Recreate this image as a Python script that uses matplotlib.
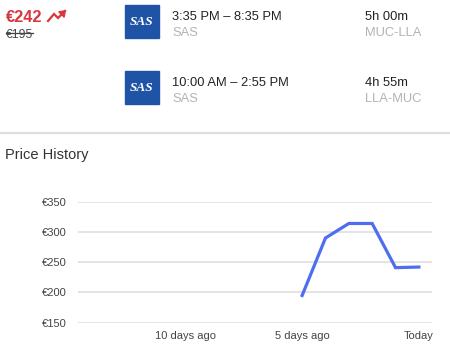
import matplotlib
matplotlib.use("Agg")
import matplotlib.pyplot as plt
from matplotlib.patches import Rectangle

# ---------------------------------------------------------------------------
# Data
# ---------------------------------------------------------------------------
days = [-5, -4, -3, -2, -1, 0]            # days relative to today
prices = [195, 290, 314, 314, 241, 242]   # EUR

y_ticks = [150, 200, 250, 300, 350]
y_tick_labels = ["€150", "€200", "€250", "€300", "€350"]
x_ticks = [-10, -5, 0]
x_tick_labels = ["10 days ago", "5 days ago", "Today"]

current_price = "€242"
old_price = "€195"
flights = [
    ("3:35 PM – 8:35 PM", "SAS", "5h 00m", "MUC-LLA"),
    ("10:00 AM – 2:55 PM", "SAS", "4h 55m", "LLA-MUC"),
]

LINE_BLUE = "#4e6ef0"
GRID = "#e4e4e4"
DARK = "#222222"
LIGHT = "#b3b3b3"
RED = "#d9363e"
SAS_BLUE = "#1f53a6"

plt.rcParams["font.family"] = ["Liberation Sans", "DejaVu Sans"]

W, H = 450, 353
fig = plt.figure(figsize=(W / 100, H / 100), dpi=100)
fig.patch.set_facecolor("white")

# overlay in pixel coordinates for the header part
ov = fig.add_axes([0, 0, 1, 1])
ov.set_xlim(0, W)
ov.set_ylim(H, 0)
ov.axis("off")

# price + trend arrow
ov.text(6, 17, current_price, color=RED, fontsize=11.8, fontweight="bold",
        va="center", ha="left")
ov.plot([48, 54, 58, 65], [21, 14, 18, 11], color=RED, lw=1.6,
        solid_joinstyle="miter")
ov.annotate("", xy=(68, 8), xytext=(63, 13),
            arrowprops=dict(arrowstyle="-|>,head_width=0.25,head_length=0.35",
                            color=RED, lw=1.2))
ov.text(6, 35, old_price, color="#444444", fontsize=8.8, va="center", ha="left")
ov.plot([6, 33], [32.6, 32.6], color="#444444", lw=0.9)

# flight rows
for i, (times, airline, dur, route) in enumerate(flights):
    y0 = i * 66
    ov.add_patch(Rectangle((125, 5 + y0), 34, 33, color=SAS_BLUE))
    ov.text(142, 22 + y0, "SAS", color="white", fontsize=9.5, fontweight="bold",
            style="italic", family="Liberation Serif", ha="center", va="center")
    ov.text(172, 16.5 + y0, times, color=DARK, fontsize=9.3, va="center")
    ov.text(172, 33.5 + y0, airline, color=LIGHT, fontsize=9.3, va="center")
    ov.text(365, 16.5 + y0, dur, color=DARK, fontsize=9.3, va="center")
    ov.text(365, 33.5 + y0, route, color=LIGHT, fontsize=9.3, va="center")

# separator
ov.plot([0, W], [132.5, 132.5], color="#dddddd", lw=1.6)
ov.text(5, 155, "Price History", color="#333333", fontsize=10.5, va="center")

# ---------------------------------------------------------------------------
# Price chart
# ---------------------------------------------------------------------------
left, right = 78, 431.7
top, bottom = 201.7, 322.7
ax = fig.add_axes([left / W, 1 - bottom / H, (right - left) / W, (bottom - top) / H])
ax.set_facecolor("none")
ax.plot(days, prices, color=LINE_BLUE, lw=2.3, solid_joinstyle="miter",
        clip_on=False)
ax.set_xlim(-14.6, 0.55)
ax.set_ylim(150, 350)
for y in y_ticks:
    ax.axhline(y, color=GRID, lw=1.4, zorder=0)
ax.set_yticks(y_ticks)
ax.set_yticklabels(y_tick_labels)
ax.set_xticks(x_ticks)
ax.set_xticklabels(x_tick_labels)
ax.tick_params(length=0, labelsize=8, labelcolor="#444444")
ax.tick_params(axis="y", pad=8)
ax.tick_params(axis="x", pad=6)
for s in ax.spines.values():
    s.set_visible(False)

fig.savefig("out.png", dpi=100)
